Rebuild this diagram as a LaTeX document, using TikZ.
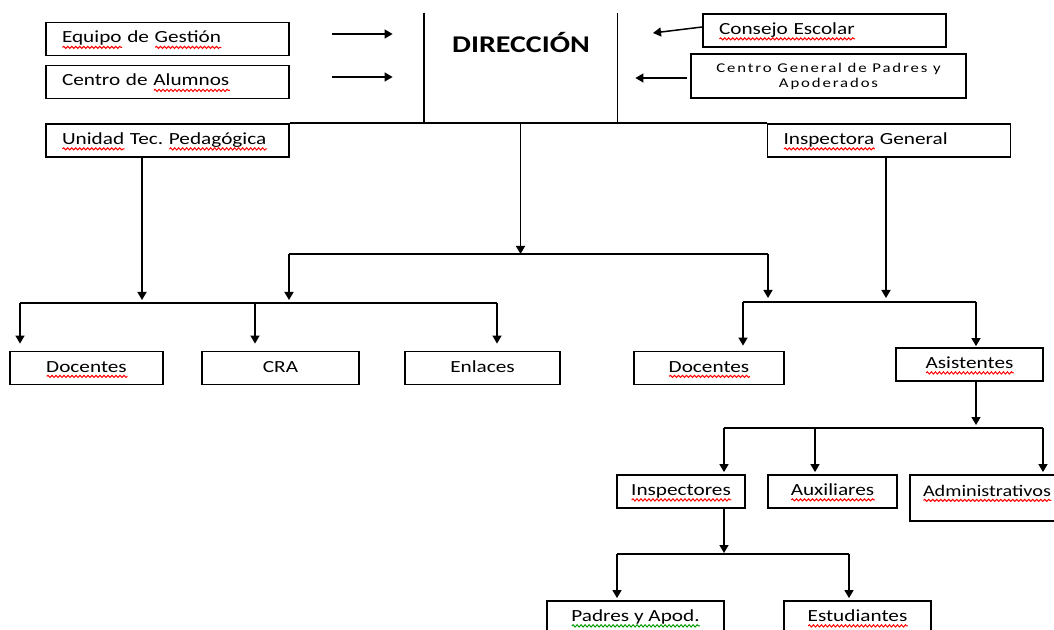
\documentclass[tikz,border=0pt]{standalone}
\usepackage{fontspec}
\usetikzlibrary{arrows.meta,decorations.pathmorphing}
\setmainfont[FakeStretch=1.25]{Carlito}
\newfontfamily\padresfont[FakeStretch=1.25,LetterSpace=14]{Carlito}
\newsavebox\ondacaja
\newlength\ondaancho
\newcommand\onda[2]{\sbox\ondacaja{#2}\setlength\ondaancho{\wd\ondacaja}%
  \rlap{\tikz[baseline=0pt]\draw[#1, line width=0.5pt, decorate,
    decoration={snake, amplitude=0.55pt, segment length=2pt}]
    (0pt,-2.2pt) -- (\ondaancho,-2.2pt);}\usebox\ondacaja}
\newcommand\ondaroja[1]{\onda{red}{#1}}
\newcommand\ondaverde[1]{\onda{green!60!black}{#1}}
\tikzset{
  caja/.style={draw, line width=0.9pt, inner sep=0pt, minimum height=16.5pt,
    text height=7pt, text depth=3pt, font=\fontsize{8.5}{10}\selectfont},
  cajaizq/.style={caja, text width=105.5pt, inner xsep=8pt, align=left},
  linea/.style={line width=0.75pt},
  flecha/.style={->, line width=0.75pt}
}
\begin{document}
\begin{tikzpicture}[x=0.5pt, y=-0.5pt, >={Triangle[width=4.5pt,length=4pt]}]
  \clip (0,0) rectangle (1054,630);
  % direccion y los de arriba
  \node[minimum width=96.5pt, minimum height=55pt, inner sep=0pt] (direccion) at (520.5,68) {};
  \draw[line width=0.9pt] (direccion.north west) -- (direccion.south west)
    -- (direccion.south east) -- (direccion.north east);
  \node[font=\bfseries\fontsize{12}{14}\selectfont] (dirtit) at (521,43) {DIRECCIÓN};
  \node[cajaizq] (equipo) at (167.5,39) {\ondaroja{Equipo} de \ondaroja{Gestión}};
  \node[cajaizq] (alumnos) at (167.5,82) {Centro de \ondaroja{Alumnos}};
  \node[cajaizq] (unidad) at (167.5,140.5) {\ondaroja{Unidad} Tec.\ \ondaroja{Pedagógica}};
  \node[cajaizq] (consejo) at (824.5,30.5) {\ondaroja{Consejo Escolar}};
  \node[draw, line width=0.9pt, minimum width=137.5pt, minimum height=22pt, inner sep=0pt,
    align=center, font=\padresfont\fontsize{6.7}{7.5}\selectfont] (cgpa) at (828.5,76)
    {Centro General de Padres y\\Apoderados};
  \node[cajaizq] (inspectora) at (889,140.5) {\ondaroja{Inspectora} General};
  % segundo nivel
  \node[caja, minimum width=76.5pt] (doc1) at (86.5,368) {\ondaroja{Docentes}};
  \node[caja, minimum width=78.5pt] (cra) at (280.5,368) {CRA};
  \node[caja, minimum width=77.5pt] (enlaces) at (482.5,368) {Enlaces};
  \node[caja, minimum width=75pt] (doc2) at (709,368) {\ondaroja{Docentes}};
  \node[caja, minimum width=73.5pt] (asistentes) at (969.5,364.5) {\ondaroja{Asistentes}};
  \node[caja, minimum width=64pt] (inspectores) at (681,491.5) {\ondaroja{Inspectores}};
  \node[caja, minimum width=64.5pt] (auxiliares) at (832.5,491.5) {\ondaroja{Auxiliares}};
  \node[caja, text width=69pt, inner xsep=6.5pt, align=left, minimum height=23pt,
    text depth=9pt, font=\fontsize{8.1}{10}\selectfont] (administrativos) at (992,498)
    {\ondaroja{Administrativos}};
  \node[caja, minimum width=88.5pt] (padres) at (635.5,617.5) {\ondaverde{Padres y Apod.}};
  \node[caja, minimum width=73.5pt] (estudiantes) at (857.5,617.5) {\ondaroja{Estudiantes}};
  % flechas de arriba
  \draw[linea] (unidad.north east) -- (inspectora.north west);
  \draw[flecha, shorten <=21pt, shorten >=15.5pt] ([yshift=2.5pt]equipo.east)
    -- ([yshift=2.5pt]equipo.east -| direccion.west);
  \draw[flecha, shorten <=21pt, shorten >=15.5pt] ([yshift=2.5pt]alumnos.east)
    -- ([yshift=2.5pt]alumnos.east -| direccion.west);
  \coordinate (cefin) at (653,33);
  \draw[flecha] ([yshift=1.75pt]consejo.west) -- (cefin);
  \draw[flecha, shorten <=1.5pt, shorten >=9pt] ([yshift=-1pt]cgpa.west)
    -- ([yshift=-1pt]cgpa.west -| direccion.east);
  % barras
  \coordinate (bus1a) at (289,254); \coordinate (bus1b) at (768,254);
  \coordinate (bus2a) at (20,303);  \coordinate (bus2b) at (497,303);
  \coordinate (bus3a) at (743,302); \coordinate (bus3b) at (976,302);
  \coordinate (bus4a) at (724,428); \coordinate (bus4b) at (1043,428);
  \coordinate (bus5a) at (617,554); \coordinate (bus5b) at (849,554);
  \draw[linea] (bus1a) -- (bus1b);
  \draw[flecha] (direccion.south) -- (direccion.south |- bus1a);
  \draw[flecha, shorten >=1.5pt] (bus1a) -- (bus1a |- bus2a);
  \draw[flecha, shorten >=1.5pt] ([xshift=-12.75pt]unidad.south) -- ([xshift=-12.75pt]unidad.south |- bus2a);
  \draw[linea] (bus2a) -- (bus2b);
  \draw[flecha, shorten >=3.5pt] (bus2a) -- (bus2a |- doc1.north);
  \draw[flecha, shorten >=3.5pt] ([xshift=-12.75pt]cra.north |- bus2a) -- ([xshift=-12.75pt]cra.north);
  \draw[flecha, shorten >=3.5pt] (bus2b) -- (bus2b |- enlaces.north);
  \draw[flecha, shorten >=2pt] (bus1b) -- (bus1b |- bus3a);
  \draw[flecha, shorten >=2pt] ([xshift=-1.5pt]inspectora.south) -- ([xshift=-1.5pt]inspectora.south |- bus3a);
  \draw[linea] (bus3a) -- (bus3b);
  \draw[flecha, shorten >=2.5pt] (bus3a) -- (bus3a |- doc2.north);
  \draw[flecha, shorten >=0.5pt] (bus3b) -- (bus3b |- asistentes.north);
  \draw[flecha, shorten >=1.5pt] (asistentes.south -| bus3b) -- (bus4a -| bus3b);
  \draw[linea] (bus4a) -- (bus4b);
  \draw[flecha, shorten >=1pt] (bus4a) -- (bus4a |- inspectores.north);
  \draw[flecha, shorten >=1pt] ([xshift=-8.75pt]auxiliares.north |- bus4a) -- ([xshift=-8.75pt]auxiliares.north);
  \draw[flecha, shorten >=1pt] (bus4b) -- (bus4b |- administrativos.north);
  \draw[flecha, shorten >=0.5pt] (inspectores.south -| bus4a) -- (bus4a |- bus5a);
  \draw[linea] (bus5a) -- (bus5b);
  \draw[flecha, shorten >=1pt] (bus5a) -- (bus5a |- padres.north);
  \draw[flecha, shorten >=1pt] (bus5b) -- (bus5b |- estudiantes.north);
\end{tikzpicture}
\end{document}
